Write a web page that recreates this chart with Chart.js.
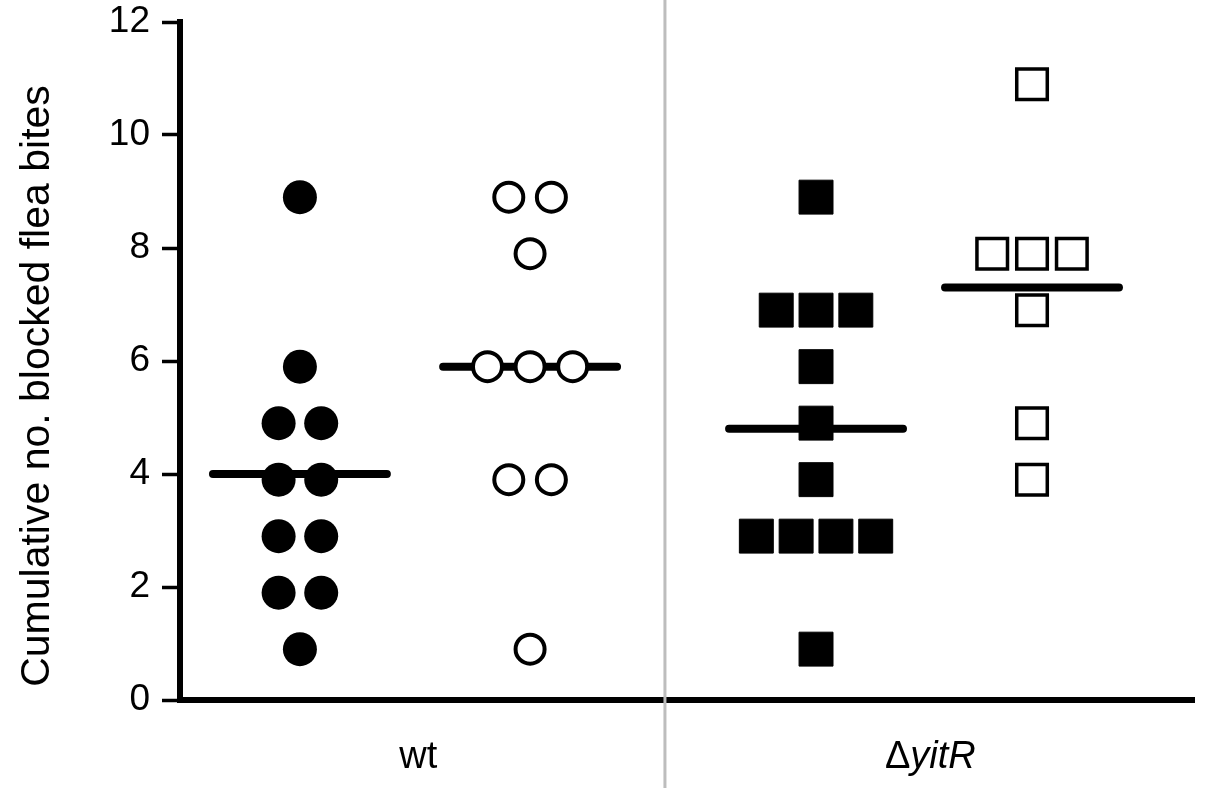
<!DOCTYPE html>
<html>
<head>
<meta charset="utf-8">
<script src="https://cdn.jsdelivr.net/npm/chart.js@4.4.1/dist/chart.umd.min.js"></script>
<style>
  html, body { margin: 0; padding: 0; background: #fff; }
  #wrap { width: 1206px; height: 800px; }
</style>
</head>
<body>
<div id="wrap"><canvas id="chart"></canvas></div>
<script>
// groups on the x axis
const categories = ['wt', 'yitR'];
const categoryPos = [0.94, 2.96];
const dividerPos = 1.913;
const yTitle = 'Cumulative no. blocked flea bites';

// cumulative no. of blocked flea bites, one value per mouse
const wtFilled = [8.9, 5.9, 4.9, 4.9, 3.9, 3.9, 2.9, 2.9, 1.9, 1.9, 0.9];
const wtOpen = [8.9, 8.9, 7.9, 5.9, 5.9, 5.9, 3.9, 3.9, 0.9];
const yitRFilled = [8.9, 6.9, 6.9, 6.9, 5.9, 4.9, 3.9, 2.9, 2.9, 2.9, 2.9, 0.9];
const yitROpen = [10.9, 7.9, 7.9, 7.9, 6.9, 4.9, 3.9];
const medians = [4.0, 5.9, 4.8, 7.3];
const columnPos = [0.473, 1.381, 2.509, 3.361];

const yMax = 12;
const FONT = "'Liberation Sans', Arial, Helvetica, sans-serif";

const circleStep = 0.168;
const squareStep = 0.157;
const medianHalf = 0.343;

// put equal values side by side around the column centre
function spread(values, center, step) {
    const counts = {};
    values.forEach(v => { counts[v] = (counts[v] || 0) + 1; });
    const seen = {};
    return values.map(v => {
        seen[v] = (seen[v] === undefined) ? 0 : seen[v] + 1;
        return { x: center + (seen[v] - (counts[v] - 1) / 2) * step, y: v };
    });
}

const groups = [
    { data: wtFilled, step: circleStep, style: 'circle', radius: 17, bg: '#000', bw: 0 },
    { data: wtOpen, step: circleStep, style: 'circle', radius: 14.5, bg: '#fff', bw: 4 },
    { data: yitRFilled, step: squareStep, style: 'rect', radius: 24, bg: '#000', bw: 1 },
    { data: yitROpen, step: squareStep, style: 'rect', radius: 21.6, bg: '#fff', bw: 3.5 }
];

const datasets = [];
groups.forEach((g, i) => {
    datasets.push({
        data: spread(g.data, columnPos[i], g.step),
        pointStyle: g.style,
        pointRadius: g.radius,
        pointHoverRadius: g.radius,
        pointBackgroundColor: g.bg,
        pointBorderColor: '#000',
        pointBorderWidth: g.bw,
        showLine: false,
        order: 1
    });
});
medians.forEach((m, i) => {
    datasets.push({
        data: [{ x: columnPos[i] - medianHalf, y: m }, { x: columnPos[i] + medianHalf, y: m }],
        showLine: true,
        borderColor: '#000',
        borderWidth: 8,
        borderCapStyle: 'round',
        pointRadius: 0,
        order: 2
    });
});

// grey separator, y title and the category names
const decor = {
    id: 'decor',
    beforeDatasetsDraw(chart) {
        const ctx = chart.ctx;
        const x = chart.scales.x.getPixelForValue(dividerPos);
        ctx.save();
        ctx.strokeStyle = '#bdbdbd';
        ctx.lineWidth = 3;
        ctx.beginPath();
        ctx.moveTo(x, 0);
        ctx.lineTo(x, 788);
        ctx.stroke();
        ctx.restore();
    },
    afterDraw(chart) {
        const ctx = chart.ctx;
        const xs = chart.scales.x;
        const y = xs.top + 68;
        ctx.save();
        ctx.fillStyle = '#000';

        // y title, sits a bit below the middle of the axis
        ctx.save();
        ctx.translate(38, 386);
        ctx.rotate(-Math.PI / 2);
        ctx.font = '41px ' + FONT;
        ctx.textAlign = 'center';
        ctx.textBaseline = 'middle';
        ctx.fillText(yTitle, 0, 0);
        ctx.restore();

        ctx.textBaseline = 'alphabetic';
        ctx.textAlign = 'left';
        // wt
        ctx.font = '38px ' + FONT;
        let w = ctx.measureText(categories[0]).width;
        ctx.fillText(categories[0], xs.getPixelForValue(categoryPos[0]) - w / 2, y);
        // delta upright + italic gene name
        const delta = '\u0394';
        const wd = ctx.measureText(delta).width;
        ctx.font = 'italic 38px ' + FONT;
        const wg = ctx.measureText(categories[1]).width;
        let x0 = xs.getPixelForValue(categoryPos[1]) - (wd + wg) / 2;
        ctx.font = '38px ' + FONT;
        ctx.fillText(delta, x0, y);
        ctx.font = 'italic 38px ' + FONT;
        ctx.fillText(categories[1], x0 + wd, y);
        ctx.restore();
    }
};

new Chart(document.getElementById('chart'), {
    type: 'scatter',
    data: { datasets: datasets },
    plugins: [decor],
    options: {
        responsive: true,
        maintainAspectRatio: false,
        animation: false,
        events: [],
        layout: { autoPadding: false, padding: { left: 0, right: 12, top: 22, bottom: 0 } },
        plugins: { legend: { display: false }, tooltip: { enabled: false } },
        scales: {
            x: {
                type: 'linear',
                min: 0,
                max: 4,
                ticks: { display: false },
                grid: { display: true, drawOnChartArea: false, drawTicks: false },
                border: { display: true, color: '#000', width: 6 },
                afterFit: s => {
                    s.height = 100;
                    s.paddingLeft = 0;
                    s.paddingRight = 0;
                }
            },
            y: {
                min: 0,
                max: yMax,
                ticks: {
                    stepSize: 2,
                    color: '#000',
                    padding: 12,
                    font: { family: FONT, size: 37 }
                },
                grid: { drawOnChartArea: false, tickLength: 18, tickWidth: 3.5, tickColor: '#000' },
                border: { display: true, color: '#000', width: 6 },
                afterFit: s => {
                    s.width = 180;
                    s.paddingTop = 0;
                    s.paddingBottom = 0;
                }
            },
            yMinor: {
                position: 'left',
                min: 0,
                max: yMax,
                ticks: { stepSize: 1, display: false },
                grid: { drawOnChartArea: false, tickLength: 12, tickWidth: 3.5, tickColor: '#000' },
                border: { display: false },
                afterFit: s => {
                    s.width = 0;
                    s.paddingTop = 0;
                    s.paddingBottom = 0;
                }
            }
        }
    }
});
</script>
</body>
</html>
